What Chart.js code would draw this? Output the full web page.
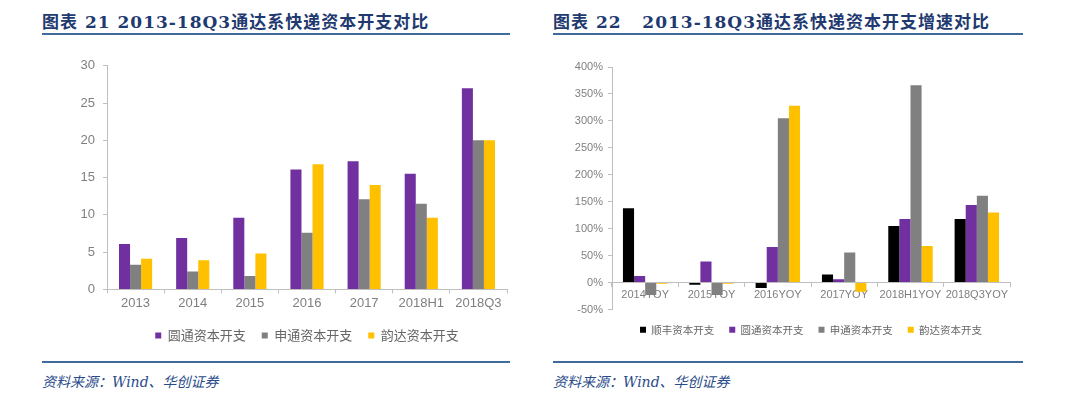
<!DOCTYPE html>
<html>
<head>
<meta charset="utf-8">
<script src="https://cdn.jsdelivr.net/npm/chart.js@4/dist/chart.umd.min.js"></script>
<style>
  body { margin:0; background:#fff; width:1080px; height:398px; position:relative; overflow:hidden; }
  .titulo { position:absolute; top:8px; font-family:"DejaVu Serif","Noto Sans CJK SC",serif; font-weight:bold; font-size:17px; color:#1f3a70; white-space:pre; letter-spacing:1px; }
  .linha { position:absolute; height:2px; background:#3f6a9c; }
  .fonte { position:absolute; top:371px; font-family:"DejaVu Serif","Noto Sans CJK SC",serif; font-style:italic; font-size:14px; color:#2a4b8a; }
  canvas { position:absolute; }
</style>
</head>
<body>
<div class="titulo" style="left:42px">图表 21 2013-18Q3通达系快递资本开支对比</div>
<div class="linha" style="left:42px; width:468px; top:33px"></div>
<div class="titulo" style="left:553px">图表 22   2013-18Q3通达系快递资本开支增速对比</div>
<div class="linha" style="left:553px; width:470px; top:33px"></div>

<canvas id="graficoCapex" width="480" height="302" style="left:40px; top:50px"></canvas>
<canvas id="graficoCrescimento" width="470" height="295" style="left:560px; top:50px"></canvas>

<div class="linha" style="left:42px; width:468px; top:361px"></div>
<div class="fonte" style="left:42px">资料来源：Wind、华创证券</div>
<div class="linha" style="left:553px; width:470px; top:361px"></div>
<div class="fonte" style="left:553px">资料来源：Wind、华创证券</div>

<script>
// DADOS - grafico 21
const anos = ["2013", "2014", "2015", "2016", "2017", "2018H1", "2018Q3"];
const capexYuantong = [6.1, 6.9, 9.6, 16.1, 17.2, 15.5, 27.0];
const capexShentong = [3.3, 2.4, 1.8, 7.6, 12.1, 11.5, 20.0];
const capexYunda = [4.1, 3.9, 4.8, 16.8, 14.0, 9.6, 20.0];

// DADOS - grafico 22
const periodosYoy = ["2014YOY", "2015YOY", "2016YOY", "2017YOY", "2018H1YOY", "2018Q3YOY"];
const yoyShunfeng = [138, -4, -10, 15, 105, 118];
const yoyYuantong = [12, 39, 66, 6, 118, 144];
const yoyShentong = [-23, -23, 305, 56, 366, 161];
const yoyYunda = [-2, -2, 328, -17, 68, 130];

const ROXO = "#7030a0", CINZA = "#808080", AMARELO = "#ffc000", PRETO = "#000000";
const corTexto = "#7f7f7f";
const corEixo = "#bfbfbf";

Chart.defaults.font.family = "'Liberation Sans', Arial, 'Noto Sans CJK SC', sans-serif";
Chart.defaults.color = corTexto;
Chart.defaults.animation = false;

function legenda(tamanho, espaco) {
  return {
    position: "bottom",
    fullSize: false,
    labels: { boxWidth: 6, boxHeight: 6, padding: espaco, color: "#666666", font: { size: tamanho, family: "'Noto Sans CJK SC', sans-serif" } }
  };
}

// GRAFICO 21
new Chart(document.getElementById("graficoCapex").getContext("2d"), {
  type: "bar",
  data: {
    labels: anos,
    datasets: [
      { label: "圆通资本开支", data: capexYuantong, backgroundColor: ROXO },
      { label: "申通资本开支", data: capexShentong, backgroundColor: CINZA },
      { label: "韵达资本开支", data: capexYunda, backgroundColor: AMARELO }
    ]
  },
  options: {
    responsive: false,
    layout: { padding: { top: 15, right: 13, bottom: 0 } },
    datasets: { bar: { categoryPercentage: 0.58, barPercentage: 1 } },
    plugins: { legend: legenda(13, 16), tooltip: { enabled: false } },
    scales: {
      x: {
        grid: { drawOnChartArea: false, color: corEixo, tickLength: 4, offset: true },
        border: { color: corEixo },
        ticks: { font: { size: 13 }, padding: 2, maxRotation: 0 }
      },
      y: {
        min: 0, max: 30,
        afterFit: s => { s.width = 67; },
        grid: { drawOnChartArea: false, color: corEixo, tickLength: 4 },
        border: { color: corEixo },
        ticks: { stepSize: 5, font: { size: 13 }, padding: 8 }
      }
    }
  }
});

// GRAFICO 22
new Chart(document.getElementById("graficoCrescimento").getContext("2d"), {
  type: "bar",
  data: {
    labels: periodosYoy,
    datasets: [
      { label: "顺丰资本开支", data: yoyShunfeng, backgroundColor: PRETO },
      { label: "圆通资本开支", data: yoyYuantong, backgroundColor: ROXO },
      { label: "申通资本开支", data: yoyShentong, backgroundColor: CINZA },
      { label: "韵达资本开支", data: yoyYunda, backgroundColor: AMARELO }
    ]
  },
  options: {
    responsive: false,
    layout: { padding: { top: 17, right: 20, bottom: 0 } },
    datasets: { bar: { categoryPercentage: 0.67, barPercentage: 1 } },
    plugins: { legend: legenda(10.5, 15), tooltip: { enabled: false } },
    scales: {
      x: {
        position: { y: 0 },
        grid: { drawOnChartArea: false, color: corEixo, tickLength: 4, offset: true },
        border: { color: corEixo },
        ticks: { font: { size: 11 }, padding: 2, maxRotation: 0, autoSkip: false }
      },
      y: {
        min: -50, max: 400,
        afterFit: s => { s.width = 52; },
        grid: { drawOnChartArea: false, color: corEixo, tickLength: 4 },
        border: { color: corEixo },
        ticks: { stepSize: 50, font: { size: 11 }, padding: 5, callback: v => v + "%" }
      }
    }
  }
});
</script>
</body>
</html>
